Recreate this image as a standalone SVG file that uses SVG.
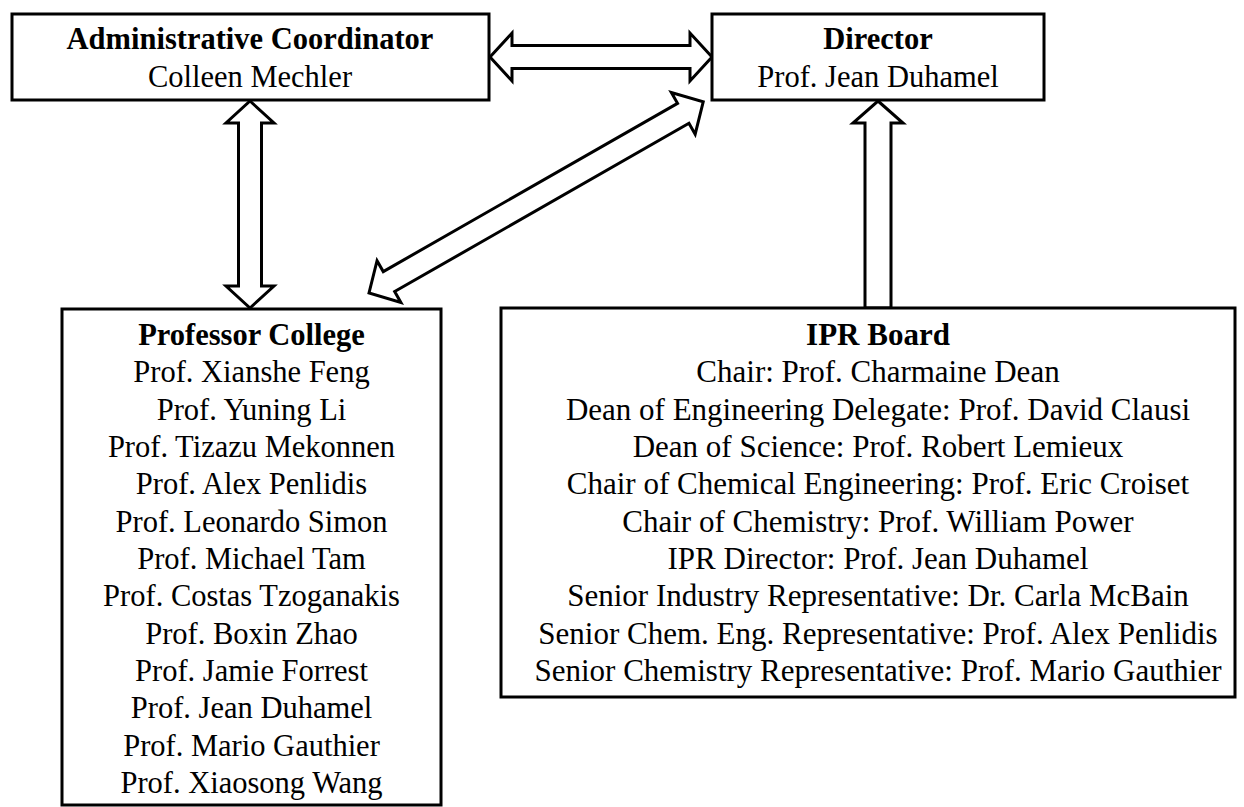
<svg xmlns="http://www.w3.org/2000/svg" width="1244" height="807" viewBox="0 0 1244 807">
<style>
.box{fill:#fff;stroke:#000;stroke-width:3}
.arr{fill:#fff;stroke:#000;stroke-width:3;stroke-linejoin:miter}
text{font-family:"Liberation Serif","Times New Roman",serif;font-size:30.5px;fill:#000;text-anchor:middle}
.b{font-weight:bold}
.ipr text{font-size:31px}
</style>
<rect width="1244" height="807" fill="#fff"/>
<g id="connectors">
<path class="arr" d="M490,57 L512,33 L512,45.5 L690,45.5 L690,33 L712,57 L690,81 L690,68.5 L512,68.5 L512,81 Z"/>
<path class="arr" d="M250,101 L274,123 L261.5,123 L261.5,286 L274,286 L250,308 L226,286 L238.5,286 L238.5,123 L226,123 Z"/>
<path class="arr" d="M878,101 L903,123 L891,123 L891,308 L865,308 L865,123 L853,123 Z"/>
<path class="arr" transform="translate(369,293) rotate(-29.76)" d="M0,0 L23,-24 L23,-11.5 L362,-11.5 L362,-24 L385,0 L362,24 L362,11.5 L23,11.5 L23,24 Z"/>
</g>
<g id="admin">
<rect class="box" x="12" y="14" width="477" height="86"/>
<text class="b" x="250" y="49">Administrative Coordinator</text>
<text x="250" y="87">Colleen Mechler</text>
</g>
<g id="director">
<rect class="box" x="712" y="14" width="332" height="86"/>
<text class="b" x="878" y="49">Director</text>
<text x="878" y="87">Prof. Jean Duhamel</text>
</g>
<g id="professor-college">
<rect class="box" x="62" y="309" width="379" height="496"/>
<text class="b" x="251.5" y="345">Professor College</text>
<text x="251.5" y="382.3">Prof. Xianshe Feng</text>
<text x="251.5" y="419.7">Prof. Yuning Li</text>
<text x="251.5" y="457">Prof. Tizazu Mekonnen</text>
<text x="251.5" y="494.3">Prof. Alex Penlidis</text>
<text x="251.5" y="531.7">Prof. Leonardo Simon</text>
<text x="251.5" y="569">Prof. Michael Tam</text>
<text x="251.5" y="606.3">Prof. Costas Tzoganakis</text>
<text x="251.5" y="643.7">Prof. Boxin Zhao</text>
<text x="251.5" y="681">Prof. Jamie Forrest</text>
<text x="251.5" y="718.3">Prof. Jean Duhamel</text>
<text x="251.5" y="755.7">Prof. Mario Gauthier</text>
<text x="251.5" y="793">Prof. Xiaosong Wang</text>
</g>
<g id="ipr-board" class="ipr">
<rect class="box" x="501" y="308" width="734" height="389"/>
<text class="b" x="878" y="345">IPR Board</text>
<text x="878" y="382.3">Chair: Prof. Charmaine Dean</text>
<text x="878" y="419.7">Dean of Engineering Delegate: Prof. David Clausi</text>
<text x="878" y="457">Dean of Science: Prof. Robert Lemieux</text>
<text x="878" y="494.3">Chair of Chemical Engineering: Prof. Eric Croiset</text>
<text x="878" y="531.7">Chair of Chemistry: Prof. William Power</text>
<text x="878" y="569">IPR Director: Prof. Jean Duhamel</text>
<text x="878" y="606.3">Senior Industry Representative: Dr. Carla McBain</text>
<text x="878" y="643.7">Senior Chem. Eng. Representative: Prof. Alex Penlidis</text>
<text x="878" y="681">Senior Chemistry Representative: Prof. Mario Gauthier</text>
</g>
</svg>
